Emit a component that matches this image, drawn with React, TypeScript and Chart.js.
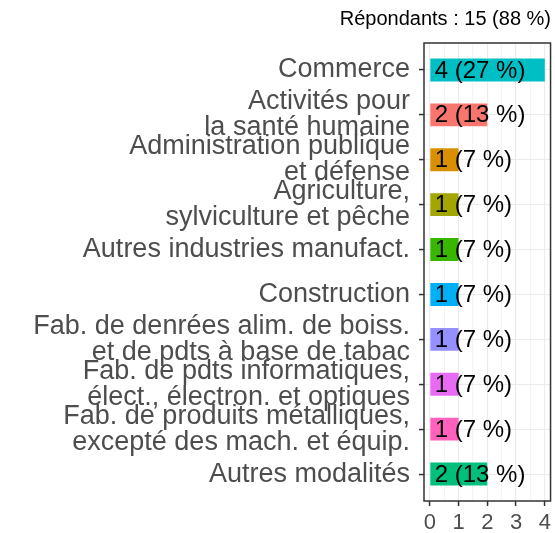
import React, { useEffect, useRef } from "react";
import { Chart, registerables } from "chart.js";

Chart.register(...registerables);

const categories: (string | string[])[] = [
  "Commerce",
  ["Activités pour", "la santé humaine"],
  ["Administration publique", "et défense"],
  ["Agriculture,", "sylviculture et pêche"],
  "Autres industries manufact.",
  "Construction",
  ["Fab. de denrées alim. de boiss.", "et de pdts à base de tabac"],
  ["Fab. de pdts informatiques,", "élect., électron. et optiques"],
  ["Fab. de produits métalliques,", "excepté des mach. et équip."],
  "Autres modalités",
];
const counts = [4, 2, 1, 1, 1, 1, 1, 1, 1, 2];
const percents = [27, 13, 7, 7, 7, 7, 7, 7, 7, 13];
const barColors = [
  "#00BFC4", "#F8766D", "#D89000", "#A3A500", "#39B600",
  "#00B0F6", "#9590FF", "#E76BF3", "#FF62BC", "#00BF7D",
];
const xMajorTicks = [0, 1, 2, 3, 4];
const xMinorTicks = [0.5, 1.5, 2.5, 3.5];
const titleText = "Répondants : 15 (88 %)";

const FONT = "'Liberation Sans', Arial, sans-serif";

export default function App() {
  const ref = useRef<HTMLCanvasElement | null>(null);

  useEffect(() => {
    document.body.style.margin = "0";
    const canvas = ref.current;
    if (!canvas) return;

    const overlay = {
      id: "overlay",
      afterDatasetsDraw(chart: any) {
        const ctx = chart.ctx;
        const xs = chart.scales.x;
        const ys = chart.scales.y;
        ctx.save();
        ctx.fillStyle = "#000000";
        ctx.font = `24px ${FONT}`;
        ctx.textAlign = "left";
        ctx.textBaseline = "middle";
        const x0 = xs.getPixelForValue(0);
        counts.forEach((c, i) => {
          ctx.fillText(`${c} (${percents[i]} %)`, x0 + 5, ys.getPixelForValue(i) + 1);
        });
        ctx.restore();
      },
      afterDraw(chart: any) {
        const ctx = chart.ctx;
        const a = chart.chartArea;
        ctx.save();
        ctx.strokeStyle = "#333333";
        ctx.lineWidth = 1.5;
        ctx.strokeRect(a.left, a.top, a.right - a.left, a.bottom - a.top);
        ctx.fillStyle = "#000000";
        ctx.font = `20px ${FONT}`;
        ctx.textAlign = "right";
        ctx.textBaseline = "alphabetic";
        ctx.fillText(titleText, 551, 25);
        ctx.restore();
      },
    };

    const chart = new Chart(canvas, {
      type: "bar",
      data: {
        datasets: [
          {
            data: counts.map((v, i) => ({ x: v, y: i })) as any,
            backgroundColor: barColors,
            borderWidth: 0,
            barPercentage: 1,
            categoryPercentage: 0.51,
          },
        ],
      },
      options: {
        indexAxis: "y",
        animation: false,
        responsive: false,
        maintainAspectRatio: false,
        layout: { padding: { top: 43, right: 2, left: 0, bottom: 0 } },
        plugins: {
          legend: { display: false },
          tooltip: { enabled: false },
          title: { display: false },
        },
        scales: {
          x: {
            type: "linear",
            min: -0.2,
            max: 4.2,
            offset: false,
            afterBuildTicks: (scale: any) => {
              scale.ticks = [...xMajorTicks, ...xMinorTicks]
                .sort((a, b) => a - b)
                .map((v) => ({ value: v }));
            },
            afterFit: (scale: any) => {
              scale.height = 32;
            },
            grid: {
              color: "#EBEBEB",
              lineWidth: (c: any) => (Number.isInteger(c.tick?.value) ? 1.1 : 0.55),
              tickColor: (c: any) =>
                Number.isInteger(c.tick?.value) ? "#333333" : "rgba(0,0,0,0)",
              tickLength: 5,
              tickWidth: 1.5,
              offset: false,
            } as any,
            border: { display: false },
            ticks: {
              autoSkip: false,
              maxRotation: 0,
              padding: 4,
              color: "#4D4D4D",
              font: { family: FONT, size: 22 },
              callback: (v: any) => (Number.isInteger(v) ? String(v) : ""),
            },
          },
          y: {
            type: "linear",
            reverse: true,
            min: -0.6,
            max: 9.6,
            offset: false,
            afterBuildTicks: (scale: any) => {
              scale.ticks = categories.map((_, i) => ({ value: i }));
            },
            afterFit: (scale: any) => {
              scale.width = 424;
            },
            grid: {
              color: "#EBEBEB",
              lineWidth: 1.1,
              tickColor: "#333333",
              tickLength: 5,
              tickWidth: 1.5,
              offset: false,
            } as any,
            border: { display: false },
            ticks: {
              autoSkip: false,
              padding: 9,
              color: "#4D4D4D",
              font: { family: FONT, size: 27, lineHeight: 0.97 },
              callback: (v: any) => categories[v as number] ?? "",
            },
          },
        },
      },
      plugins: [overlay],
    } as any);

    return () => chart.destroy();
  }, []);

  return (
    <div style={{ width: 555, height: 533 }}>
      <canvas ref={ref} width={555} height={533} style={{ display: "block" }} />
    </div>
  );
}
